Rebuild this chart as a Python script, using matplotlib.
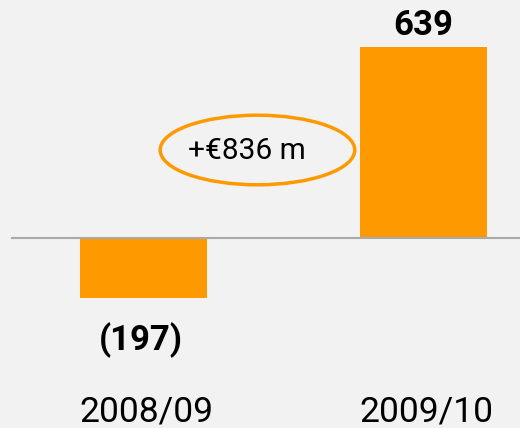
import matplotlib
matplotlib.use('Agg')
import matplotlib.pyplot as plt
from matplotlib.patches import Ellipse

# data
years = ['2008/09', '2009/10']
values = [-197, 639]
value_labels = ['(197)', '639']
change_label = '+€836 m'

bg = '#f2f2f2'
orange = '#ff9900'

plt.rcParams['font.family'] = ['Roboto', 'DejaVu Sans']

fig = plt.figure(figsize=(5.2, 4.28), dpi=100, facecolor=bg)
ax = fig.add_axes([0, 0, 1, 1])
ax.set_facecolor(bg)

x = list(range(len(years)))
ax.bar(x, values, width=0.457, color=orange, zorder=2)

# zero line
ax.axhline(0, xmin=12/520, xmax=1, color='#aaaaaa', lw=1.5, zorder=3)

ax.set_xlim(-0.5125, 1.3446)
ax.set_ylim(-631.7, 795)

# value labels
ax.text(x[1], 710, value_labels[1], ha='center', va='center',
        fontsize=25, fontweight='bold')
ax.text(x[0] - 0.01, -340, value_labels[0], ha='center', va='center',
        fontsize=25, fontweight='bold')

# year labels
for xi, yr in zip(x, years):
    ax.text(xi + 0.01, -578, yr, ha='center', va='center', fontsize=25.5)

# change callout
ell = Ellipse((0.407, 295), 0.695, 232, fill=False, edgecolor=orange, lw=2.5, zorder=4)
ax.add_patch(ell)
ax.text(0.37, 292, change_label, ha='center', va='center', fontsize=21.5)

ax.axis('off')
fig.savefig('out.png', dpi=100, facecolor=bg)
